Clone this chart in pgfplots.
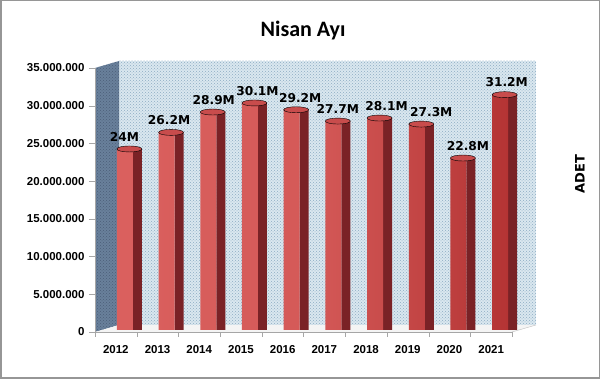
\documentclass[border=0pt]{standalone}
\usepackage{pgfplots}
\pgfplotsset{compat=1.18}
\usepackage{pgfplotstable}
\usepackage{fontspec}
\setmainfont{DejaVu Sans}
\newfontfamily\titlefont{Carlito}
\newfontfamily\arialfont{Liberation Sans}
\usetikzlibrary{patterns}
\definecolor{wallback}{RGB}{218,231,239}
\definecolor{wallpat}{RGB}{140,172,195}
\definecolor{leftwall}{RGB}{105,128,155}
\definecolor{leftpat}{RGB}{75,95,120}
\definecolor{floorc}{RGB}{244,244,244}
\definecolor{barL}{RGB}{218,96,94}
\definecolor{barR}{RGB}{180,52,52}
\definecolor{barSide}{RGB}{122,34,38}
\definecolor{barTop}{RGB}{200,76,76}
\definecolor{framec}{RGB}{150,150,150}

\pgfplotstableread{
x y lab dx
0 24000000 24M -5
1 26200000 26.2M -2
2 28900000 28.9M 1
3 30100000 30.1M 3
4 29200000 29.2M 4
5 27700000 27.7M 0
6 28100000 28.1M 7
7 27300000 27.3M 10
8 22800000 22.8M 5
9 31200000 31.2M 2
}\datatable

\begin{document}
\begin{tikzpicture}[x=1pt,y=1pt]
\useasboundingbox (0,0) rectangle (600,379);
\fill[white] (0,0) rectangle (600,379);
\draw[framec, line width=1.5pt] (0.75,0.75) rectangle (599.25,378.25);
% back wall
\fill[wallback] (119,54) rectangle (536,318);
\fill[pattern=crosshatch dots, pattern color=wallpat] (119,54) rectangle (536,318);
% left wall
\fill[leftwall] (95,47) -- (95,311) -- (119,318) -- (119,54) -- cycle;
\fill[pattern=crosshatch dots, pattern color=leftpat] (95,47) -- (95,311) -- (119,318) -- (119,54) -- cycle;
% floor
\fill[floorc] (95,47) -- (512,47) -- (536,54) -- (119,54) -- cycle;
\draw[gray!50] (512,47) -- (536,54);
\begin{axis}[
  at={(95pt,47pt)}, anchor=south west,
  scale only axis, width=417pt, height=264pt,
  xmin=-0.5, xmax=9.5, ymin=0, ymax=35000000,
  clip=false,
  axis x line*=bottom, axis y line*=left,
  axis line style={gray!70,-},
  tick align=outside,
  ytick={0,5000000,10000000,15000000,20000000,25000000,30000000,35000000},
  major tick length=6pt,
  y tick style={gray!70},
  scaled y ticks=false,
  /pgf/number format/fixed,
  /pgf/number format/precision=0,
  /pgf/number format/1000 sep={.},
  /pgf/number format/assume math mode=true,
  yticklabel style={font=\arialfont\bfseries\fontsize{11.5}{12}\selectfont, xshift=-1pt},
  xtick={0,1,2,3,4,5,6,7,8,9},
  xticklabels={2012,2013,2014,2015,2016,2017,2018,2019,2020,2021},
  x tick style={draw=none},
  minor xtick={-0.5,0.5,1.5,2.5,3.5,4.5,5.5,6.5,7.5,8.5,9.5},
  minor x tick style={gray!70, draw=gray!70},
  minor tick length=5pt,
  xticklabel style={font=\arialfont\bfseries\fontsize{11.5}{12}\selectfont, yshift=-4pt},
]
% side faces
\addplot[ybar, bar width=9pt, bar shift=21.5pt, draw=none, fill=barSide, yshift=2pt] table[x=x,y=y] \datatable;
% front faces
\addplot[ybar, bar width=16pt, bar shift=9pt, draw=none, left color=barL, right color=barR, middle color=barL!85!barR, yshift=2pt] table[x=x,y=y] \datatable;
% caps
\addplot[only marks, mark=*, mark size=12.5pt, mark options={draw=none, fill=barTop, yscale=0.24}, xshift=13.5pt, yshift=2pt,
  point meta=explicit symbolic,
  visualization depends on={\thisrow{dx} \as \labdx},
  nodes near coords,
  nodes near coords style={font=\bfseries\fontsize{12.2}{12}\selectfont, anchor=south, yshift=4pt, xshift=\labdx pt, text=black}]
  table[x=x,y=y,meta=lab] \datatable;
\end{axis}
\node[font=\titlefont\bfseries\fontsize{22}{24}\selectfont, anchor=base] at (303,342) {Nisan Ayı};
\node[rotate=90, font=\bfseries\fontsize{13}{13}\selectfont] at (580,205) {ADET};
\end{tikzpicture}
\end{document}
